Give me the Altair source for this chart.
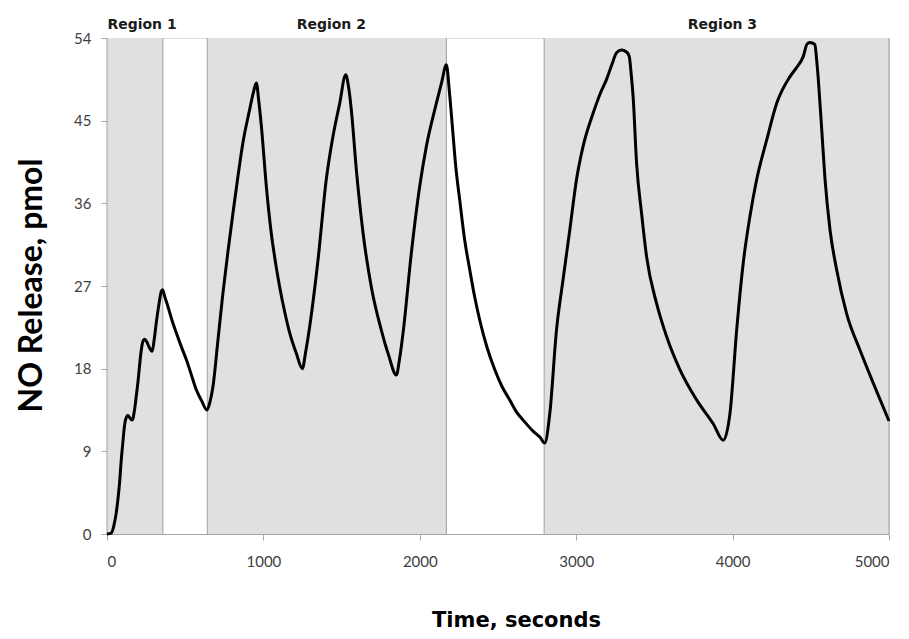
import altair as alt
import pandas as pd

# Measured NO release trace (time in seconds, value in pmol)
time_s = [0, 27, 45, 59, 70, 80, 90, 101, 110, 118, 133, 148, 161, 176, 187, 197, 208, 219, 230, 240,
          255, 268, 289, 302, 315, 332, 347, 355, 370, 389, 415, 443, 475, 507, 540, 571, 605, 639,
          660, 677, 710, 741, 773, 805, 837, 869, 912, 935, 955, 970, 987, 1019, 1050, 1077, 1104,
          1136, 1168, 1210, 1249, 1270, 1296, 1349, 1402, 1445, 1488, 1526, 1545, 1562, 1594, 1637,
          1690, 1754, 1800, 1850, 1870, 1893, 1946, 1999, 2042, 2106, 2140, 2170,
          2190, 2212, 2230, 2255, 2287, 2319, 2351, 2383, 2430, 2479, 2527, 2575, 2618, 2671, 2724,
          2770, 2799,
          2831, 2874, 2916, 2959, 3002, 3044, 3108, 3150, 3194, 3230, 3258, 3290, 3320, 3339, 3352,
          3364, 3386, 3418, 3450, 3514, 3578, 3663, 3770, 3876, 3940, 3983, 4026, 4068, 4111, 4154,
          4218, 4282, 4367, 4410, 4452, 4475, 4494, 4526, 4538, 4548, 4570, 4591, 4623, 4665, 4729,
          4815, 4900, 5000]
no_pmol = [0, 0.1, 1.0, 2.3, 3.8, 5.5, 7.8, 9.9, 11.5, 12.4, 12.9, 12.6, 12.4, 13.5, 15.0, 16.4, 18.3,
           20.0, 21.0, 21.2, 20.9, 20.4, 19.9, 21.2, 23.0, 25.0, 26.4, 26.6, 25.8, 24.8, 23.3, 21.9,
           20.4, 19.0, 17.3, 15.7, 14.5, 13.5,
           14.5, 16.0, 21.2, 26.2, 30.7, 34.9, 38.9, 42.6, 46.2, 48.0, 49.1, 47.2, 44.4, 37.8, 32.8,
           29.6, 26.9, 24.2, 21.9, 19.7, 18.0, 19.8, 22.6, 29.8, 38.6, 43.3, 46.9, 50.0, 48.6, 46.2,
           39.7, 32.8, 26.9, 22.2, 19.5, 17.3, 19.0, 21.9, 30.6, 37.8, 42.2, 46.9, 49.2, 51.1,
           48.0, 43.6, 40.0, 36.4, 32.0, 28.8, 25.8, 23.3, 20.3, 17.9, 16.0, 14.6, 13.3, 12.2, 11.2,
           10.5, 9.9,
           13.1, 22.2, 27.7, 33.1, 38.6, 42.2, 45.8, 47.8, 49.5, 51.2, 52.4, 52.7, 52.5, 52.0, 50.0,
           47.6, 40.4, 34.9, 30.2, 25.1, 21.5, 17.9, 14.6, 12.0, 10.2, 13.1, 22.2, 29.5, 34.6, 38.6,
           42.9, 46.9, 49.8, 50.8, 52.0, 53.3, 53.5, 53.3, 51.5, 49.5, 44.0, 38.6, 33.1, 28.8, 24.0,
           20.0, 16.4, 12.3]

region_names = ["Region 1", "Region 2", "Region 3"]
region_start = [0, 641, 2795]
region_end = [357, 2170, 5000]
region_label_x = [224, 1434, 3935]

x_ticks = [0, 1000, 2000, 3000, 4000, 5000]
y_ticks = [0, 9, 18, 27, 36, 45, 54]

trace = pd.DataFrame({"t": time_s, "v": no_pmol})
regions = pd.DataFrame({
    "name": region_names,
    "start": region_start,
    "end": region_end,
    "lx": region_label_x,
    "lo": [0] * 3,
    "hi": [54] * 3,
})
edges = pd.DataFrame({"e": region_start + region_end})

xs = alt.Scale(domain=[0, 5000], nice=False)
ys = alt.Scale(domain=[0, 54], nice=False)

x_axis = alt.Axis(values=x_ticks, format="d", title="Time, seconds", grid=False, labelFont="Lato",
                  labelFontSize=15, labelColor="#404040", labelPadding=14, tickSize=6,
                  tickColor="#a6a6a6", domainColor="#a6a6a6", titleFont="DejaVu Sans",
                  titleFontSize=21, titleFontWeight="bold", titleColor="#000000",
                  titleX=409, titleY=92, titleBaseline="alphabetic", titleAlign="center")
y_axis = alt.Axis(values=y_ticks, title="NO Release, pmol", grid=False, labelFont="Lato",
                  labelFontSize=15, labelColor="#404040", labelPadding=10, tickSize=6,
                  tickColor="#a6a6a6", domainColor="#a6a6a6", titleFont="Lato",
                  titleFontSize=32, titleFontWeight="bold", titleColor="#000000",
                  titleX=-76, titleY=247, titleAngle=-90, titleAlign="center",
                  titleBaseline="middle")

shade = alt.Chart(regions).mark_rect(color="#e0e0e0").encode(
    x=alt.X("start:Q", scale=xs, axis=x_axis),
    x2="end:Q",
    y=alt.Y("lo:Q", scale=ys, axis=y_axis),
    y2="hi:Q",
)

edge_rules = alt.Chart(edges).mark_rule(color="#a0a0a0", strokeWidth=1).encode(
    x=alt.X("e:Q", scale=xs),
    y=alt.value(0),
    y2=alt.value(496),
)

line = alt.Chart(trace).mark_line(color="#000000", strokeWidth=3, strokeJoin="round",
                                  interpolate="monotone").encode(
    x=alt.X("t:Q", scale=xs),
    y=alt.Y("v:Q", scale=ys),
)

labels = alt.Chart(regions).mark_text(font="DejaVu Sans", fontSize=14, fontWeight="bold",
                                      color="#1a1a1a", baseline="middle").encode(
    x=alt.X("lx:Q", scale=xs),
    y=alt.value(-13),
    text="name:N",
)

chart = alt.layer(shade, edge_rules, line, labels).properties(
    width=782,
    height=496,
    autosize=alt.AutoSizeParams(type="none"),
    padding={"left": 99, "top": 30, "right": 12, "bottom": 101},
).configure_view(stroke=None).configure(background="white")

chart.save("out.html", embed_options={"renderer": "svg", "actions": False})
